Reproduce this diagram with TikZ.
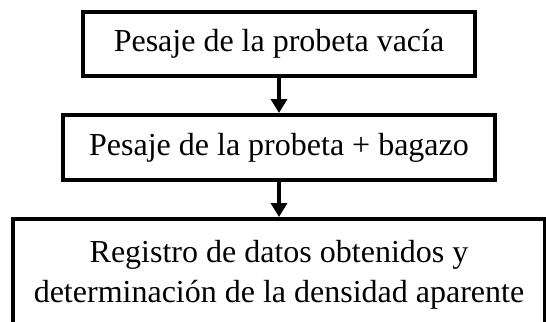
\documentclass[tikz,border=0pt]{standalone}
\usepackage{fontspec}
\setmainfont{Liberation Serif}
\usetikzlibrary{arrows.meta, positioning}

\begin{document}
\begin{tikzpicture}[
  font=\fontsize{32bp}{40bp}\selectfont,
  paso/.style={draw, line width=4bp, align=center, inner sep=0pt},
  arr/.style={-{Triangle[width=16bp, length=14bp]}, line width=4bp}
]
  \path[use as bounding box, clip] (0,0) rectangle (546bp,-322bp);
  \node[paso, minimum width=392bp, minimum height=64bp] (P1) at (279bp,-44bp) {Pesaje de la probeta vacía};
  \node[paso, minimum width=432bp, minimum height=65bp, below=35bp of P1] (P2) {Pesaje de la probeta + bagazo};
  \node[paso, minimum width=532bp, minimum height=112bp, below=35bp of P2] (P3) {Registro de datos obtenidos y\\determinación de la densidad aparente};
  \draw[arr] (P1) -- (P2);
  \draw[arr] (P2) -- (P3);
\end{tikzpicture}
\end{document}
